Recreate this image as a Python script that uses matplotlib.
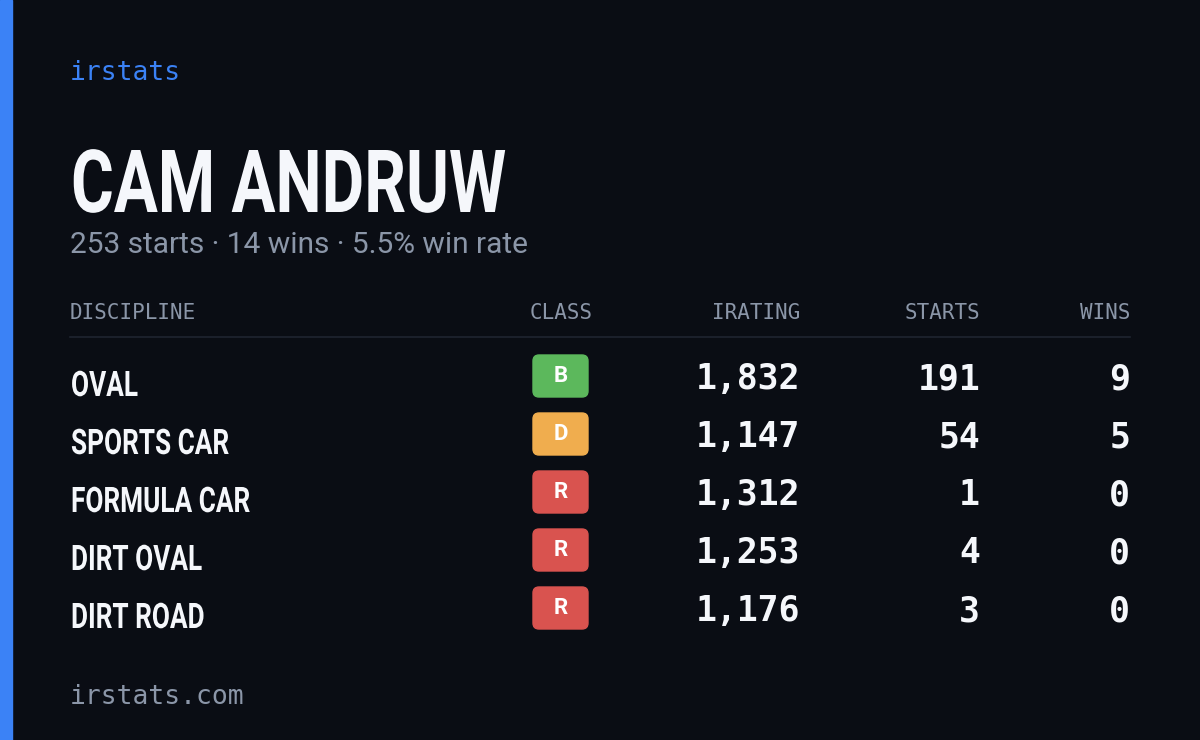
import matplotlib
matplotlib.use("Agg")
import matplotlib.pyplot as plt
from matplotlib.patches import FancyBboxPatch, Rectangle, PathPatch
from matplotlib.textpath import TextPath
from matplotlib.font_manager import FontProperties
from matplotlib.transforms import Affine2D

player = "CAM ANDRUW"
summary = "253 starts · 14 wins · 5.5% win rate"
headers = ["DISCIPLINE", "CLASS", "IRATING", "STARTS", "WINS"]
disciplines = ["OVAL", "SPORTS CAR", "FORMULA CAR", "DIRT OVAL", "DIRT ROAD"]
classes = ["B", "D", "R", "R", "R"]
iratings = [1832, 1147, 1312, 1253, 1176]
starts = [191, 54, 1, 4, 3]
wins = [9, 5, 0, 0, 0]
class_colors = {"B": "#5cb85c", "D": "#f0ad4e", "R": "#d9534f"}

BG = "#0a0d14"
fig = plt.figure(figsize=(12, 7.4), dpi=100, facecolor=BG)
ax = fig.add_axes([0, 0, 1, 1])
ax.set_xlim(0, 1200); ax.set_ylim(740, 0); ax.axis("off")
ax.set_facecolor(BG)
ax.add_patch(Rectangle((0, 0), 12, 740, color="#3b82f6"))

def condensed(text, x, baseline, cap_h, sx, color):
    fp = FontProperties(family="Roboto", weight="bold")
    tp = TextPath((0, 0), text, size=100, prop=fp)
    s = cap_h / 71.1  # Roboto cap height ~0.711 em
    tr = Affine2D().scale(s * sx, -s).translate(x, baseline)
    ax.add_patch(PathPatch(tr.transform_path(tp), color=color, lw=0))

mono = "DejaVu Sans Mono"
ax.text(70, 73, "irstats", color="#3b82f6", fontsize=19, family=mono, va="center")
condensed(player, 71, 212, 62, 0.75, "#f5f7fb")
ax.text(70, 245, summary, color="#8b96a8", fontsize=21.5, family="Roboto", va="center")

hx = [70, 593, 800, 980, 1130]
ha = ["left", "right", "right", "right", "right"]
for h, x, a in zip(headers, hx, ha):
    ax.text(x, 313, h, color="#8b96a8", fontsize=15, family=mono, ha=a, va="center")
ax.plot([70, 1130], [337, 337], color="#1f2430", lw=1.2)

for i, (d, c, ir, s, w) in enumerate(zip(disciplines, classes, iratings, starts, wins)):
    y = 381 + i * 58
    condensed(d, 71, y + 15, 25, 0.745, "#f5f7fb")
    ax.add_patch(FancyBboxPatch((533, y - 26), 55, 42, boxstyle="round,pad=0,rounding_size=6",
                                color=class_colors[c]))
    ax.text(560.5, y - 4.5, c, color="white", fontsize=16, family="Roboto", weight="bold",
            ha="center", va="center")
    for x, v in zip(hx[2:], [f"{ir:,}", str(s), str(w)]):
        ax.text(x, y - 2, v, color="#f5f7fb", fontsize=25, family=mono, weight="bold",
                ha="right", va="center")

ax.text(70, 697, "irstats.com", color="#8b96a8", fontsize=19, family=mono, va="center")
fig.savefig("out.png", dpi=100, facecolor=BG)
